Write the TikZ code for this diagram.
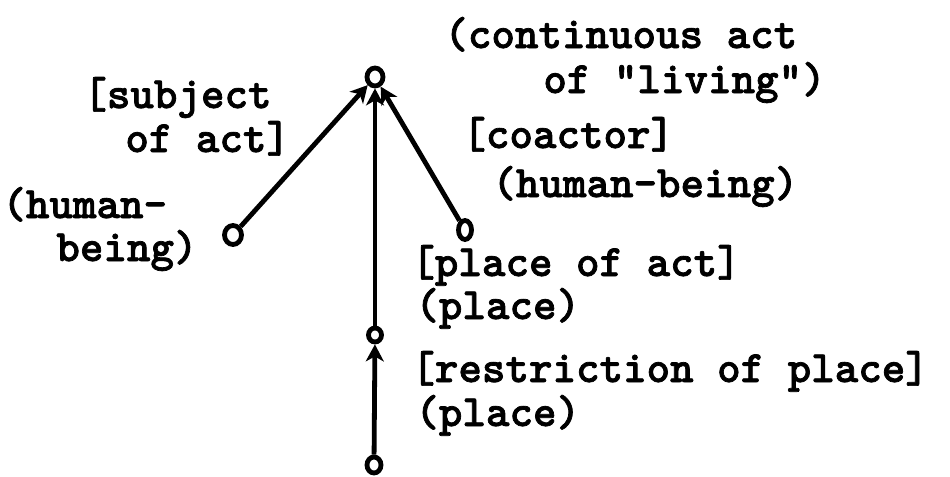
\documentclass[tikz,border=0pt]{standalone}
\usepackage{fontspec}
\newfontfamily\twfont{lmmonolt10-bold.otf}[FakeBold=1.6]
\usetikzlibrary{arrows.meta,shapes.geometric}
\begin{document}
\begin{tikzpicture}[x=0.5pt,y=-0.5pt,
  lbl/.style={anchor=base west,inner sep=0pt,text height=0.62em,text depth=0.1em,
    font=\twfont\fontsize{22.4}{24}\selectfont},
  vtx/.style={draw,line width=2.4pt,ellipse,inner sep=0pt,
    minimum width=7pt,minimum height=8.5pt},
  link/.style={line width=2.4pt,
    -{Stealth[length=8.5pt,width=9pt,inset=2.5pt]}}]
\useasboundingbox (0,0) rectangle (950,477);

% concept nodes
\node[vtx,minimum width=8pt,minimum height=9pt] (act) at (375,77) {};
\node[vtx,minimum width=8.5pt,minimum height=9.5pt] (subj) at (233,235) {};
\node[vtx,minimum width=6.5pt,minimum height=9.5pt] (coact) at (465,230) {};
\node[vtx,minimum width=6.5pt,minimum height=7pt] (plc) at (375,335) {};
\node[vtx,minimum width=7pt,minimum height=8pt] (rplc) at (374,465) {};

% relations
\draw[link] (subj) -- (act);
\draw[link] (coact) -- (act);
\draw[link] (plc) -- (act);
\draw[link] (rplc) -- (plc);

% labels
\node[lbl] (l1) at (444,48) {(continuous act};
\node[lbl] (l2) at (543,93) {of "living")};
\node[lbl] (l3) at (83,108) {[subject};
\node[lbl] (l4) at (125,152) {of act]};
\node[lbl] (l5) at (2,218) {(human-};
\node[lbl] (l6) at (56,261) {being)};
\node[lbl] (l7) at (462,148) {[coactor]};
\node[lbl] (l8) at (492,197) {(human-being)};
\node[lbl] (l9) at (411,276) {[place of act]};
\node[lbl] (l10) at (415,319) {(place)};
\node[lbl] (l11) at (411,382) {[restriction of place]};
\node[lbl] (l12) at (415,426) {(place)};
\end{tikzpicture}
\end{document}
